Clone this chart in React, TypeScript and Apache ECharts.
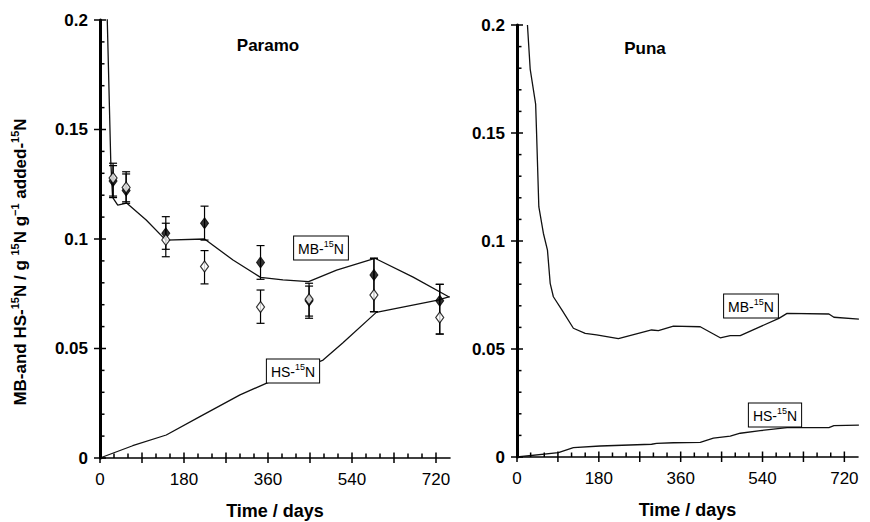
import React, { useEffect, useRef } from "react";
import * as echarts from "echarts";

// ---------- data ----------
const sampleDays = [28, 56, 141, 224, 344, 448, 587, 728];
const mbParamoMeasured = [0.1265, 0.1222, 0.1026, 0.1072, 0.0893, 0.0718, 0.0836, 0.0718];
const mbParamoLow = [0.1196, 0.117, 0.0953, 0.0995, 0.0816, 0.0648, 0.0668, 0.0566];
const mbParamoHigh = [0.1346, 0.1307, 0.1102, 0.115, 0.097, 0.0798, 0.0912, 0.0793];
const hsParamoMeasured = [0.1278, 0.1235, 0.0996, 0.0874, 0.069, 0.0725, 0.0744, 0.0642];
const hsParamoLow = [0.1189, 0.1163, 0.0919, 0.0795, 0.0615, 0.0638, 0.0668, 0.0566];
const hsParamoHigh = [0.1335, 0.1297, 0.1072, 0.0947, 0.0767, 0.0785, 0.0912, 0.0793];

const mbParamoModelDays = [15, 23, 27, 38, 57, 99, 141, 224, 285, 344, 392, 447, 507, 589, 671, 749];
const mbParamoModel = [0.205, 0.136, 0.119, 0.1155, 0.1164, 0.1087, 0.0995, 0.1, 0.0904, 0.0825, 0.0813, 0.0805, 0.0858, 0.0912, 0.0826, 0.0734];
const hsParamoModelDays = [0, 70, 142, 214, 300, 356, 478, 520, 592, 724, 749];
const hsParamoModel = [0, 0.0056, 0.0105, 0.0189, 0.0288, 0.0341, 0.0447, 0.0525, 0.0665, 0.0721, 0.0737];

const mbPunaModelDays = [23, 29, 41, 43, 48, 58, 67, 73, 80, 99, 124, 150, 175, 223, 296, 311, 344, 403, 447, 469, 491, 576, 594, 686, 697, 752];
const mbPunaModel = [0.2, 0.1796, 0.1634, 0.1503, 0.1159, 0.1036, 0.0958, 0.0804, 0.0742, 0.068, 0.0596, 0.0572, 0.0565, 0.0548, 0.0588, 0.0585, 0.0606, 0.0603, 0.0552, 0.0562, 0.0562, 0.0642, 0.0665, 0.0662, 0.0647, 0.0638];
const hsPunaModelDays = [0, 91, 124, 183, 296, 307, 344, 403, 432, 469, 491, 535, 594, 686, 697, 752];
const hsPunaModel = [0, 0.002, 0.0043, 0.0051, 0.0059, 0.0063, 0.0066, 0.0068, 0.0087, 0.0097, 0.011, 0.0122, 0.0136, 0.0136, 0.0145, 0.0148];

// tick values
const xTickLabels = [0, 180, 360, 540, 720];
const xMajorTicks = [0, 90, 180, 270, 360, 450, 540, 630, 720];
const xMinorTicks = [30, 60, 120, 150, 210, 240, 300, 330, 390, 420, 480, 510, 570, 600, 660, 690];
const yMajorTicks = [0, 0.05, 0.1, 0.15, 0.2];
const yMinorTicks = [0.01, 0.02, 0.03, 0.04, 0.06, 0.07, 0.08, 0.09, 0.11, 0.12, 0.13, 0.14, 0.16, 0.17, 0.18, 0.19];

const FONT = 'Arial, "Liberation Sans", Helvetica, sans-serif';
const TICK_COLOR = "#000";

const zip = (xs: number[], ys: number[]) => xs.map((x, i) => [x, ys[i]]);

function makeAxes(gridIndex: number) {
  const xa = {
    type: "value", gridIndex, min: 0, max: 750,
    axisLine: { show: true, lineStyle: { color: "#000", width: 1.6 } },
    axisTick: { show: false },
    axisLabel: { show: true, customValues: xTickLabels, margin: 13, color: "#000", fontSize: 17, fontFamily: FONT },
    splitLine: { show: false },
    name: "Time / days", nameLocation: "middle", nameGap: 44,
    nameTextStyle: { color: "#000", fontSize: 18, fontWeight: "bold", fontFamily: FONT },
  };
  const ya = {
    type: "value", gridIndex, min: 0, max: 0.2, interval: 0.05,
    axisLine: { show: true, lineStyle: { color: "#000", width: 3 } },
    axisTick: { show: false },
    axisLabel: { show: true, margin: 12, color: "#000", fontSize: 17, fontWeight: "bold", fontFamily: FONT },
    splitLine: { show: false },
  };
  return { xa, ya };
}

const tickSeries = (idx: number) => {
  const data: number[][] = [];
  xMajorTicks.forEach((v) => data.push([v, 0, 0]));
  xMinorTicks.forEach((v) => data.push([v, 0, 1]));
  yMajorTicks.forEach((v) => data.push([0, v, 2]));
  yMinorTicks.forEach((v) => data.push([0, v, 3]));
  return {
    type: "custom", xAxisIndex: idx, yAxisIndex: idx, z: 10, silent: true,
    dimensions: ["x", "y", "kind"],
    data,
    encode: { x: 0, y: 1 },
    renderItem: (params: any, api: any) => {
      const kind = api.value(2);
      const p = api.coord([api.value(0), api.value(1)]);
      const st = { stroke: TICK_COLOR, lineWidth: 1.5, fill: "none" };
      let shape;
      if (kind === 0) shape = { x1: p[0], y1: p[1] - 5.5, x2: p[0], y2: p[1] + 5 };
      else if (kind === 1) shape = { x1: p[0], y1: p[1] - 4.5, x2: p[0], y2: p[1] };
      else if (kind === 2) shape = { x1: p[0] - 6, y1: p[1], x2: p[0] + 6, y2: p[1] };
      else shape = { x1: p[0], y1: p[1], x2: p[0] + 4.5, y2: p[1] };
      return { type: "line", shape, style: st };
    },
  };
};

const supRich = {
  n: { fontSize: 14, lineHeight: 18, fontFamily: FONT, color: "#000" },
  s: { fontSize: 9, lineHeight: 10, fontFamily: FONT, color: "#000", verticalAlign: "top" },
};

function boxLabel(prefix: string, x: number, y: number) {
  return {
    type: "text", x, y, z: 100,
    style: {
      text: `{n|${prefix}-}{s|15}{n|N}`,
      rich: supRich,
      align: "center", verticalAlign: "middle",
      textAlign: "center", textVerticalAlign: "middle",
      backgroundColor: "#fff", borderColor: "#000", borderWidth: 1,
      padding: [3, 4, 2, 4],
    },
  };
}

export default function App() {
  const ref = useRef<HTMLDivElement>(null);
  useEffect(() => {
    document.body.style.margin = "0";
    if (!ref.current) return;
    const chart = echarts.init(ref.current, undefined, { renderer: "svg" });
    const L = makeAxes(0);
    const R = makeAxes(1);

    const errorSeries = (low: number[], high: number[]) => ({
      type: "custom", xAxisIndex: 0, yAxisIndex: 0, z: 3,
      data: sampleDays.map((d, i) => [d, low[i], high[i]]),
      encode: { x: 0, y: [1, 2] },
      renderItem: (_params: any, api: any) => {
        const x = api.value(0);
        const lo = api.coord([x, api.value(1)]);
        const hi = api.coord([x, api.value(2)]);
        const w = 4;
        const st = { stroke: "#000", lineWidth: 1.2 };
        return {
          type: "group",
          children: [
            { type: "line", shape: { x1: lo[0], y1: lo[1], x2: hi[0], y2: hi[1] }, style: st },
            { type: "line", shape: { x1: lo[0] - w, y1: lo[1], x2: lo[0] + w, y2: lo[1] }, style: st },
            { type: "line", shape: { x1: hi[0] - w, y1: hi[1], x2: hi[0] + w, y2: hi[1] }, style: st },
          ],
        };
      },
    });

    const lineSeries = (xi: number, data: number[][]) => ({
      type: "line", xAxisIndex: xi, yAxisIndex: xi, data, showSymbol: false, symbol: "none",
      lineStyle: { color: "#111", width: 1.3 }, clip: true, z: 2,
    });

    chart.setOption({
      animation: false,
      backgroundColor: "#fff",
      grid: [
        { left: 100, right: 420, top: 20, bottom: 64, outerBoundsMode: "none", containLabel: false },
        { left: 517, right: 12, top: 25, bottom: 65, outerBoundsMode: "none", containLabel: false },
      ],
      xAxis: [L.xa, R.xa],
      yAxis: [L.ya, R.ya],
      series: [
        lineSeries(0, zip(mbParamoModelDays, mbParamoModel)),
        lineSeries(0, zip(hsParamoModelDays, hsParamoModel)),
        errorSeries(mbParamoLow, mbParamoHigh),
        errorSeries(hsParamoLow, hsParamoHigh),
        {
          type: "scatter", xAxisIndex: 0, yAxisIndex: 0, z: 4,
          symbol: "diamond", symbolSize: [8, 11],
          itemStyle: { color: "#000", borderColor: "#000", borderWidth: 1 },
          data: zip(sampleDays, mbParamoMeasured),
        },
        {
          type: "scatter", xAxisIndex: 0, yAxisIndex: 0, z: 5,
          symbol: "diamond", symbolSize: [8, 11],
          itemStyle: { color: "#fff", borderColor: "#000", borderWidth: 1.2 },
          data: zip(sampleDays, hsParamoMeasured),
        },
        lineSeries(1, zip(mbPunaModelDays, mbPunaModel)),
        lineSeries(1, zip(hsPunaModelDays, hsPunaModel)),
        tickSeries(0),
        tickSeries(1),
      ],
      graphic: [
        {
          type: "text", x: 268, y: 45, z: 100,
          style: { text: "Paramo", fontSize: 17, fontWeight: "bold", fontFamily: FONT, fill: "#000",
            align: "center", verticalAlign: "middle", textAlign: "center", textVerticalAlign: "middle" },
        },
        {
          type: "text", x: 645, y: 48, z: 100,
          style: { text: "Puna", fontSize: 17, fontWeight: "bold", fontFamily: FONT, fill: "#000",
            align: "center", verticalAlign: "middle", textAlign: "center", textVerticalAlign: "middle" },
        },
        {
          type: "text", x: 20, y: 262, rotation: Math.PI / 2, z: 100,
          style: {
            text: "{n|MB-and HS-}{s|15}{n|N / g }{s|15}{n|N g}{s|−1}{n| added-}{s|15}{n|N}",
            rich: {
              n: { fontSize: 17, lineHeight: 21, fontWeight: "bold", fontFamily: FONT, color: "#000" },
              s: { fontSize: 11, lineHeight: 12, fontWeight: "bold", fontFamily: FONT, color: "#000", verticalAlign: "top" },
            },
            align: "center", verticalAlign: "middle", textAlign: "center", textVerticalAlign: "middle",
          },
        },
        boxLabel("MB", 321, 248),
        boxLabel("HS", 293, 371),
        boxLabel("MB", 751, 306),
        boxLabel("HS", 775, 415),
      ],
    });
    return () => chart.dispose();
  }, []);
  return <div ref={ref} style={{ width: 870, height: 522 }} />;
}
